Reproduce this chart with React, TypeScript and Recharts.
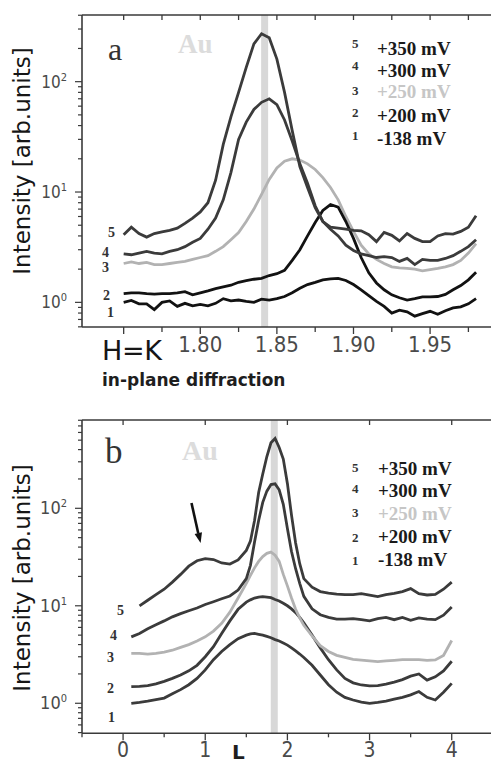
import React from 'react';
import { LineChart, Line, XAxis, YAxis } from 'recharts';

// ---------- panel a : in-plane diffraction (H = K) ----------
const A_HK = [1.75, 1.755, 1.76, 1.765, 1.77, 1.775, 1.78, 1.785, 1.79, 1.795, 1.8, 1.805, 1.81, 1.815, 1.82, 1.825, 1.83, 1.835, 1.84, 1.845, 1.85, 1.855, 1.86, 1.865, 1.87, 1.875, 1.88, 1.885, 1.89, 1.895, 1.9, 1.905, 1.91, 1.915, 1.92, 1.925, 1.93, 1.935, 1.94, 1.945, 1.95, 1.955, 1.96, 1.965, 1.97, 1.975, 1.98];
const A_S1 = [1.0, 1.04, 0.97, 0.97, 0.86, 1.0, 1.03, 0.92, 0.98, 0.93, 0.96, 0.93, 0.98, 1.08, 1.03, 1.05, 1.02, 1.0, 1.07, 1.05, 1.08, 1.13, 1.22, 1.34, 1.45, 1.52, 1.6, 1.63, 1.65, 1.58, 1.45, 1.3, 1.15, 1.02, 0.92, 0.8, 0.85, 0.82, 0.75, 0.79, 0.83, 0.78, 0.84, 0.89, 0.91, 0.97, 1.08];
const A_S2 = [1.2, 1.22, 1.22, 1.2, 1.19, 1.2, 1.2, 1.22, 1.25, 1.17, 1.22, 1.27, 1.33, 1.38, 1.43, 1.52, 1.57, 1.62, 1.65, 1.75, 1.82, 1.95, 2.4, 3.0, 4.0, 5.3, 6.8, 7.7, 7.3, 5.4, 3.8, 2.55, 1.85, 1.5, 1.3, 1.17, 1.1, 1.05, 1.08, 1.12, 1.12, 1.13, 1.18, 1.3, 1.42, 1.6, 1.87];
const A_S3 = [2.25, 2.33, 2.25, 2.3, 2.2, 2.2, 2.25, 2.3, 2.35, 2.45, 2.55, 2.65, 2.9, 3.2, 3.7, 4.3, 5.4, 7.0, 9.5, 13, 16.5, 19, 20, 19.5, 18, 16, 13.5, 11, 8.5, 6.0, 4.4, 3.3, 2.75, 2.45, 2.25, 2.1, 2.05, 2.03, 2.0, 1.93, 1.98, 2.03, 2.1, 2.2, 2.4, 2.8, 3.4];
const A_S4 = [2.75, 2.7, 2.8, 2.9, 2.8, 2.75, 2.9, 3.0, 3.2, 3.5, 3.8, 4.6, 5.8, 8.5, 15, 30, 43, 56, 65, 70, 62, 45, 29, 18, 12, 7.5, 5.4, 4.6, 4.0, 3.3, 2.95, 2.75, 2.65, 2.55, 2.6, 2.55, 2.35, 2.5, 2.2, 2.45, 2.4, 2.4, 2.5, 2.65, 2.9, 3.2, 3.7];
const A_S5 = [4.1, 4.8, 4.2, 3.9, 4.2, 4.35, 4.5, 4.7, 5.2, 5.8, 6.6, 8.0, 12.8, 27, 48, 80, 135, 220, 272, 250, 160, 80, 36, 17, 11, 7.2, 5.4, 4.8, 4.7, 4.6, 4.5, 4.45, 4.1, 3.55, 4.3, 4.05, 3.6, 4.2, 3.8, 3.55, 3.55, 4.0, 4.2, 4.15, 4.4, 4.8, 6.1];
const A_X_DOMAIN = [1.7228, 2.0];
const A_Y_DOMAIN = [0.598, 402];
const A_X_TICKS = [1.75, 1.775, 1.8, 1.825, 1.85, 1.875, 1.9, 1.925, 1.95, 1.975];
const A_X_LABELS = ['1.80', '1.85', '1.90', '1.95'];
const A_Y_TICKS = [0.6, 0.7, 0.8, 0.9, 1, 2, 3, 4, 5, 6, 7, 8, 9, 10, 20, 30, 40, 50, 60, 70, 80, 90, 100, 200, 300, 400];
const A_AU = 1.842;

// ---------- panel b : L scan ----------
const B_L = [0.1, 0.2, 0.3, 0.4, 0.5, 0.6, 0.7, 0.8, 0.9, 1.0, 1.1, 1.2, 1.3, 1.4, 1.5, 1.55, 1.6, 1.65, 1.7, 1.75, 1.8, 1.85, 1.9, 1.95, 2.0, 2.05, 2.1, 2.15, 2.2, 2.3, 2.4, 2.5, 2.6, 2.7, 2.8, 2.9, 3.0, 3.1, 3.2, 3.3, 3.4, 3.5, 3.6, 3.7, 3.8, 3.9, 4.0];
const B_S1 = [1.0, 1.02, 1.05, 1.09, 1.13, 1.25, 1.38, 1.55, 1.8, 2.2, 2.8, 3.4, 4.0, 4.6, 5.0, 5.15, 5.2, 5.1, 5.0, 4.85, 4.7, 4.5, 4.35, 4.15, 3.95, 3.7, 3.45, 3.2, 2.95, 2.45, 1.95, 1.55, 1.3, 1.15, 1.08, 1.03, 1.0, 1.02, 1.05, 1.1, 1.15, 1.22, 1.32, 1.15, 1.08, 1.3, 1.6];
const B_S2 = [1.48, 1.49, 1.52, 1.58, 1.68, 1.8, 1.95, 2.15, 2.45, 3.0, 3.8, 5.2, 7.0, 9.2, 10.9, 11.5, 12.0, 12.3, 12.4, 12.3, 12.1, 11.6, 11.2, 10.6, 10.0, 9.3, 8.5, 7.6, 6.7, 5.0, 3.7, 2.8, 2.2, 1.8, 1.62, 1.54, 1.51, 1.52, 1.57, 1.65, 1.75, 1.9, 2.0, 1.73, 1.87, 2.15, 2.7];
const B_S3 = [3.25, 3.25, 3.2, 3.25, 3.35, 3.5, 3.75, 4.0, 4.35, 4.8, 5.5, 6.6, 8.6, 12, 17, 20.5, 24.5, 28.5, 32, 34.5, 35.5, 33, 28.5, 21, 16, 12, 9.2, 7.5, 6.3, 4.9, 3.9, 3.4, 3.1, 2.95, 2.82, 2.77, 2.72, 2.68, 2.72, 2.76, 2.8, 2.8, 2.8, 2.75, 2.78, 3.1, 4.4];
const B_S4 = [4.8, 5.2, 5.8, 6.4, 7.0, 7.7, 8.3, 8.9, 9.5, 10.3, 11.0, 11.8, 12.6, 14.5, 19, 26, 45, 75, 115, 150, 175, 178, 155, 110, 62, 36, 24, 17, 12.5, 9.3, 8.1, 7.6, 7.3, 7.3, 7.4, 7.2, 7.0, 7.4, 7.6, 7.2, 7.6, 7.1, 7.5, 7.3, 7.2, 8.0, 9.7];
const B_S5 = [null, 10, 11.4, 13, 14.8, 17.5, 21, 25.5, 29, 30.5, 29.8, 27.5, 26.8, 29.5, 37, 46, 75, 145, 225, 340, 470, 520, 420, 320, 180, 85, 44, 27, 19, 15.5, 14, 13.5, 13.2, 13, 13, 13.3, 12.9, 12.4, 13, 13.4, 14, 15, 13.3, 12.9, 13.1, 14.8, 17.5];
const B_X_DOMAIN = [-0.5, 4.5];
const B_Y_DOMAIN = [0.492, 805];
const B_X_TICKS = [-0.5, 0, 0.5, 1, 1.5, 2, 2.5, 3, 3.5, 4, 4.5];
const B_X_LABELS = ['0', '1', '2', '3', '4'];
const B_Y_TICKS = [0.5, 0.6, 0.7, 0.8, 0.9, 1, 2, 3, 4, 5, 6, 7, 8, 9, 10, 20, 30, 40, 50, 60, 70, 80, 90, 100, 200, 300, 400, 500, 600, 700, 800];
const B_AU = 1.84;

// ---------- legend / labels ----------
const CURVE_NUMS = ['5', '4', '3', '2', '1'];
const VOLTAGES = ['+350 mV', '+300 mV', '+250 mV', '+200 mV', '-138 mV'];

const AXIS = '#3a3a3a';
const TICK_FILL = '#4a4a4a';
const NARROW = "'Liberation Sans Narrow', 'DejaVu Sans Condensed', 'Liberation Sans', sans-serif";
const SERIF = "'Liberation Serif', 'DejaVu Serif', serif";
const SANS = "'DejaVu Sans', 'Liberation Sans', sans-serif";
const DARK = '#3b3b3b';
const BLACK = '#121212';
const LIGHT = '#b2b2b2';
const AU_COLOR = '#d8d8d8';

const rowsA = A_HK.map((x, i) => ({ x, s1: A_S1[i], s2: A_S2[i], s3: A_S3[i], s4: A_S4[i], s5: A_S5[i] }));
const rowsB = B_L.map((x, i) => ({ x, s1: B_S1[i], s2: B_S2[i], s3: B_S3[i], s4: B_S4[i], s5: B_S5[i] }));
const auA = [{ x: A_AU, au: A_Y_DOMAIN[0] }, { x: A_AU, au: A_Y_DOMAIN[1] }];
const auB = [{ x: B_AU, au: B_Y_DOMAIN[0] }, { x: B_AU, au: B_Y_DOMAIN[1] }];

const XTickA = (p: any) => {
  const { x, y, payload } = p;
  const v: number = payload.value;
  const lab = v.toFixed(2);
  const major = Math.abs(v / 0.05 - Math.round(v / 0.05)) < 1e-6;
  return (
    <g>
      <line x1={x} x2={x} y1={y} y2={y + (major ? 7 : 5)} stroke={AXIS} strokeWidth={1.3} />
      {A_X_LABELS.includes(lab) && (
        <text x={x} y={y + 25} textAnchor="middle" fontSize={22} fontFamily={NARROW} fill={TICK_FILL}>{lab}</text>
      )}
    </g>
  );
};

const XTickB = (p: any) => {
  const { x, y, payload } = p;
  const v: number = payload.value;
  const major = Math.abs(v - Math.round(v)) < 1e-6;
  const lab = String(Math.round(v));
  return (
    <g>
      <line x1={x} x2={x} y1={y} y2={y + (major ? 7 : 4)} stroke={AXIS} strokeWidth={1.3} />
      {major && B_X_LABELS.includes(lab) && (
        <text x={x} y={y + 24} textAnchor="middle" fontSize={21} fontFamily={NARROW} fill={TICK_FILL}>{lab}</text>
      )}
    </g>
  );
};

const TopTickA = (p: any) => {
  const { x, y } = p;
  return <line x1={x} x2={x} y1={y} y2={y + 5} stroke={AXIS} strokeWidth={1.3} />;
};

const TopTickB = (p: any) => {
  const { x, y, payload } = p;
  const v: number = payload.value;
  const major = Math.abs(v - Math.round(v)) < 1e-6 && v >= 0 && v <= 4;
  if (!major) return <g />;
  return <line x1={x} x2={x} y1={y} y2={y + 5} stroke={AXIS} strokeWidth={1.3} />;
};

const makeYTick = (fs: number) => (p: any) => {
  const { x, y, payload } = p;
  const v: number = payload.value;
  const lg = Math.log10(v);
  const major = Math.abs(lg - Math.round(lg)) < 1e-6;
  return (
    <g>
      <line x1={x - (major ? 7 : 4)} x2={x} y1={y} y2={y} stroke={AXIS} strokeWidth={1.2} />
      {major && (
        <text x={x - 15} y={y + 6} textAnchor="end" fontSize={fs} fontFamily={NARROW} fill={TICK_FILL}>
          10<tspan dy={-7} fontSize={11}>{String(Math.round(lg))}</tspan>
        </text>
      )}
    </g>
  );
};
const YTickA = makeYTick(17);
const YTickB = makeYTick(18);

const lineProps = { dot: false, activeDot: false, isAnimationActive: false, type: 'linear' as const, strokeWidth: 2.8 };

export default function App() {
  const legendA = { num: [48, 70, 95, 117, 140], lab: [55, 77, 98, 122, 145] };
  const legendB = { num: [472, 493, 517, 542, 565], lab: [475, 497, 520, 543, 566] };
  const curveLabA = [[108, 237], [102, 257], [102, 272], [103, 300], [107, 317]];
  const curveLabB = [[117, 615], [110, 640], [107, 662], [107, 693], [108, 722]];
  return (
    <div style={{ position: 'absolute', left: 0, top: 0, width: 491, height: 767, overflow: 'hidden', background: '#fff' }}>
      <div style={{ position: 'absolute', left: 0, top: 0 }}>
        <LineChart width={520} height={400} data={rowsA} margin={{ top: 5, right: 13.3, bottom: 43, left: 42 }}>
          <XAxis dataKey="x" type="number" domain={A_X_DOMAIN} allowDataOverflow ticks={A_X_TICKS} height={30}
            tickSize={0} tickMargin={0} tickLine={false} tick={XTickA} interval={0}
            axisLine={{ stroke: AXIS, strokeWidth: 1.6 }} />
          <XAxis xAxisId="top" orientation="top" dataKey="x" type="number" domain={A_X_DOMAIN} allowDataOverflow ticks={A_X_TICKS} height={10}
            tickSize={0} tickMargin={0} tickLine={false} tick={TopTickA} interval={0}
            axisLine={{ stroke: AXIS, strokeWidth: 1.6 }} />
          <YAxis type="number" scale="log" domain={A_Y_DOMAIN} allowDataOverflow ticks={A_Y_TICKS} width={40}
            tickSize={0} tickMargin={0} tickLine={false} tick={YTickA} interval={0}
            axisLine={{ stroke: AXIS, strokeWidth: 1.6 }} />
          <Line data={auA} dataKey="au" stroke={AU_COLOR} {...lineProps} strokeWidth={7} />
          <Line dataKey="s3" stroke={LIGHT} {...lineProps} />
          <Line dataKey="s1" stroke={BLACK} {...lineProps} />
          <Line dataKey="s2" stroke={BLACK} {...lineProps} />
          <Line dataKey="s4" stroke={DARK} {...lineProps} />
          <Line dataKey="s5" stroke={DARK} {...lineProps} />
        </LineChart>
      </div>
      <div style={{ position: 'absolute', left: 0, top: 400 }}>
        <LineChart width={520} height={380} data={rowsB} margin={{ top: 10, right: 27.2, bottom: 16.7, left: 42 }}>
          <XAxis dataKey="x" type="number" domain={B_X_DOMAIN} allowDataOverflow ticks={B_X_TICKS} height={30}
            tickSize={0} tickMargin={0} tickLine={false} tick={XTickB} interval={0}
            axisLine={{ stroke: AXIS, strokeWidth: 1.6 }} />
          <XAxis xAxisId="top" orientation="top" dataKey="x" type="number" domain={B_X_DOMAIN} allowDataOverflow ticks={B_X_TICKS} height={10}
            tickSize={0} tickMargin={0} tickLine={false} tick={TopTickB} interval={0}
            axisLine={{ stroke: AXIS, strokeWidth: 1.6 }} />
          <YAxis type="number" scale="log" domain={B_Y_DOMAIN} allowDataOverflow ticks={B_Y_TICKS} width={40}
            tickSize={0} tickMargin={0} tickLine={false} tick={YTickB} interval={0}
            axisLine={{ stroke: AXIS, strokeWidth: 1.6 }} />
          <Line data={auB} dataKey="au" stroke={AU_COLOR} {...lineProps} strokeWidth={7} />
          <Line dataKey="s1" stroke={DARK} {...lineProps} />
          <Line dataKey="s2" stroke={DARK} {...lineProps} />
          <Line dataKey="s3" stroke={LIGHT} {...lineProps} />
          <Line dataKey="s4" stroke={DARK} {...lineProps} />
          <Line dataKey="s5" stroke={DARK} {...lineProps} />
        </LineChart>
      </div>
      <svg width={491} height={767} style={{ position: 'absolute', left: 0, top: 0, pointerEvents: 'none' }}>
        {/* axis titles */}
        <text transform="translate(30,161) rotate(-90)" textAnchor="middle" fontSize={23} fontFamily={SANS} fill="#161616">Intensity [arb.units]</text>
        <text transform="translate(30,578) rotate(-90)" textAnchor="middle" fontSize={23} fontFamily={SANS} fill="#161616">Intensity [arb.units]</text>
        <text x={102} y={360} fontSize={27} fontFamily={SANS} fill="#161616" textLength={60} lengthAdjust="spacing">H = K</text>
        <text x={102} y={386} fontSize={17} fontWeight="bold" fontFamily={SANS} fill="#1e1e1e">in-plane diffraction</text>
        <text x={232} y={759} fontSize={20} fontWeight="bold" fontFamily={SANS} fill="#1e1e1e">L</text>
        {/* panel letters and Au */}
        <text x={108} y={60} fontSize={32} fontFamily={SERIF} fill="#333">a</text>
        <text x={178} y={53} fontSize={27} fontWeight="bold" fontFamily={SERIF} fill="#dcdcdc">Au</text>
        <text x={105} y={463} fontSize={35} fontFamily={SERIF} fill="#333">b</text>
        <text x={182} y={460} fontSize={28} fontWeight="bold" fontFamily={SERIF} fill="#dcdcdc">Au</text>
        {/* legends */}
        {CURVE_NUMS.map((n, i) => (
          <g key={'la' + i}>
            <text x={352} y={legendA.num[i]} fontSize={13} fontWeight="bold" fontFamily={SERIF} fill="#333">{n}</text>
            <text x={377} y={legendA.lab[i]} fontSize={19} fontWeight="bold" fontFamily={SERIF} fill={i === 2 ? '#c6c6c6' : '#1a1a1a'}>{VOLTAGES[i]}</text>
            <text x={352} y={legendB.num[i]} fontSize={13} fontWeight="bold" fontFamily={SERIF} fill="#333">{n}</text>
            <text x={378} y={legendB.lab[i]} fontSize={19} fontWeight="bold" fontFamily={SERIF} fill={i === 2 ? '#c6c6c6' : '#1a1a1a'}>{VOLTAGES[i]}</text>
            <text x={curveLabA[i][0]} y={curveLabA[i][1]} fontSize={14} fontWeight="bold" fontFamily={SERIF} fill="#333">{n}</text>
            <text x={curveLabB[i][0]} y={curveLabB[i][1]} fontSize={14} fontWeight="bold" fontFamily={SERIF} fill="#333">{n}</text>
          </g>
        ))}
        {/* arrow */}
        <line x1={191.5} y1={503} x2={198.3} y2={533.5} stroke="#111" strokeWidth={2.6} />
        <polygon points="200.6,543 202,532.3 194.6,534" fill="#111" />
      </svg>
    </div>
  );
}
